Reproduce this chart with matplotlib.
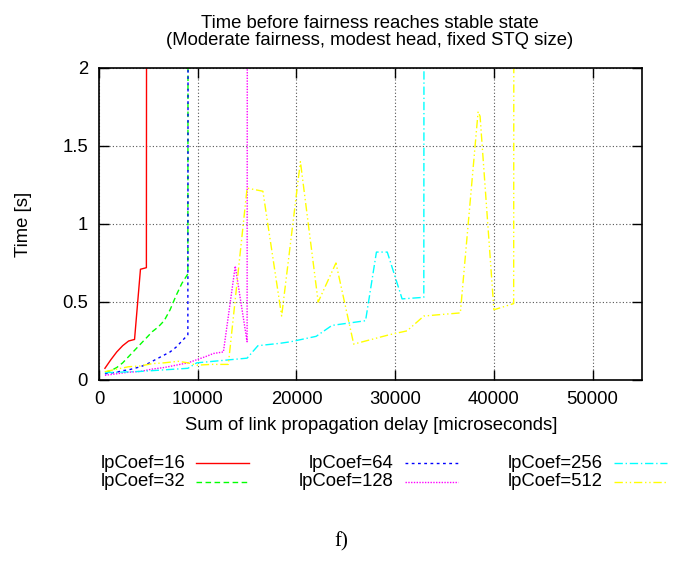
import matplotlib
matplotlib.use("Agg")
import matplotlib.pyplot as plt
from matplotlib.lines import Line2D

plt.rcParams['font.family'] = ['Liberation Sans', 'DejaVu Sans']

title_lines = ["Time before fairness reaches stable state",
               "(Moderate fairness, modest head, fixed STQ size)"]
xlabel = "Sum of link propagation delay [microseconds]"
ylabel = "Time [s]"
xticks = [0, 10000, 20000, 30000, 40000, 50000]
yticks = [0, 0.5, 1, 1.5, 2]
yticklabels = ["0", "0.5", "1", "1.5", "2"]

labels = ["lpCoef=16", "lpCoef=32", "lpCoef=64", "lpCoef=128", "lpCoef=256", "lpCoef=512"]
colors = ["#ff0000", "#00ff00", "#0000ff", "#ff00ff", "#00ffff", "#ffff00"]

x16 = [600, 1200, 1800, 2400, 3000, 3600, 4200, 4800, 5400]
y16 = [0.075, 0.13, 0.18, 0.22, 0.25, 0.26, 0.71, 0.72, 60]

x32 = [600, 1200, 1800, 2400, 3000, 3600, 4200, 4800, 5400, 6000, 6600, 7200, 7800, 8400, 9000, 9600]
y32 = [0.05, 0.06, 0.08, 0.11, 0.15, 0.19, 0.23, 0.27, 0.31, 0.34, 0.38, 0.45, 0.54, 0.62, 0.68, 60]

x64 = [600, 1200, 1800, 2400, 3000, 3600, 4200, 4800, 5400, 6000, 6600, 7200, 7800, 8400, 9000, 9600]
y64 = [0.04, 0.045, 0.05, 0.06, 0.065, 0.075, 0.085, 0.10, 0.12, 0.14, 0.16, 0.18, 0.21, 0.25, 0.29, 60]

x128 = [600, 1800, 3000, 4200, 5400, 6600, 7800, 9000, 9900, 10800, 11600, 12600, 13800, 15000, 15600]
y128 = [0.03, 0.04, 0.05, 0.055, 0.07, 0.08, 0.095, 0.11, 0.13, 0.15, 0.17, 0.18, 0.73, 0.245, 60]

x256 = [600, 4200, 9000, 9900, 15000, 16100, 18300, 19400, 22000, 23600, 27000, 28100, 29200, 30700, 32900, 33500]
y256 = [0.047, 0.055, 0.075, 0.11, 0.14, 0.22, 0.235, 0.245, 0.28, 0.35, 0.38, 0.82, 0.82, 0.52, 0.53, 60]

x512 = [600, 1800, 3000, 4200, 5400, 6600, 8000, 9000, 9900, 11400, 13100, 15000, 16600, 18500, 20400,
        22200, 24000, 25800, 27600, 29400, 31200, 32900, 34700, 36600, 38400, 38600, 40000, 42000, 42600]
y512 = [0.053, 0.07, 0.085, 0.09, 0.105, 0.11, 0.12, 0.11, 0.095, 0.10, 0.10, 1.23, 1.21, 0.41, 1.40,
        0.50, 0.75, 0.23, 0.26, 0.29, 0.315, 0.41, 0.42, 0.43, 1.72, 1.69, 0.45, 0.49, 60]

xs = [x16, x32, x64, x128, x256, x512]
ys = [y16, y32, y64, y128, y256, y512]
styles = ['-', (0, (4, 2.5)), (0, (2, 2.5)), (0, (1, 1)), (0, (6, 2, 1, 2)), (0, (6, 2, 1, 2, 1, 2))]

W, H = 678, 561
FS = 13.3

fig = plt.figure(figsize=(W/100, H/100), dpi=100)
ax = fig.add_axes([99/W, 1-380/H, (642-99)/W, (380-68)/H])

for x, y, c, ls in zip(xs, ys, colors, styles):
    ax.plot(x, y, color=c, linestyle=ls, linewidth=1.0)

ax.set_xlim(0, 55000)
ax.set_ylim(0, 2)
ax.set_xticks(xticks)
ax.set_xticklabels([str(t) for t in xticks])
ax.set_yticks(yticks)
ax.set_yticklabels(yticklabels)
ax.tick_params(direction='in', length=7, width=1, top=True, right=True, labelsize=FS, pad=8)
ax.grid(True, color='#555555', linestyle=(0, (1, 2)), linewidth=0.8)
for s in ax.spines.values():
    s.set_linewidth(1.2)

fig.text(371/W, 1-425/H, xlabel, ha='center', va='center', fontsize=FS)
fig.text(23/W, 1-224/H, ylabel, ha='center', va='center', rotation=90, fontsize=FS)
fig.text(370/W, 1-28/H, title_lines[0], ha='center', va='baseline', fontsize=FS)
fig.text(370/W, 1-45/H, title_lines[1], ha='center', va='baseline', fontsize=FS)

# legend, drawn manually in figure pixel coordinates
text_right = [185, 185, 394, 394, 603, 603]
rows = [463, 482, 463, 482, 463, 482]
for lab, c, ls, tr, ry in zip(labels, colors, styles, text_right, rows):
    fig.text(tr/W, 1-ry/H, lab, ha='right', va='center', fontsize=FS)
    fig.add_artist(Line2D([(tr+11)/W, (tr+64)/W], [1-ry/H, 1-ry/H],
                          color=c, linestyle=ls, linewidth=1.0, transform=fig.transFigure))

fig.text(341/W, 1-542/H, "f)", ha='center', va='center', fontsize=15,
         family=['Liberation Serif', 'DejaVu Serif'])

fig.savefig("out.png", dpi=100)
